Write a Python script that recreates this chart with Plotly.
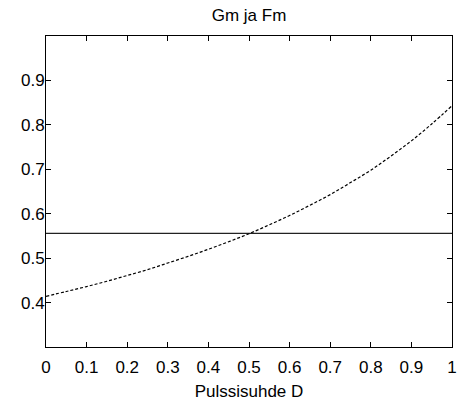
import plotly.graph_objects as go

# Data
d_values = [0.0, 0.05, 0.1, 0.15, 0.2, 0.25, 0.3, 0.35, 0.4, 0.45, 0.5,
            0.55, 0.6, 0.65, 0.7, 0.75, 0.8, 0.85, 0.9, 0.95, 1.0]
gm_values = [0.414, 0.425, 0.436, 0.448, 0.461, 0.474, 0.489, 0.504, 0.520, 0.537, 0.555,
             0.575, 0.596, 0.619, 0.643, 0.670, 0.698, 0.730, 0.764, 0.802, 0.843]
fm_d = [0.0, 1.0]
fm_values = [0.5556, 0.5556]

x_ticks = [0, 0.1, 0.2, 0.3, 0.4, 0.5, 0.6, 0.7, 0.8, 0.9, 1]
x_tick_labels = ["0", "0.1", "0.2", "0.3", "0.4", "0.5", "0.6", "0.7", "0.8", "0.9", "1"]
y_ticks = [0.4, 0.5, 0.6, 0.7, 0.8, 0.9]
y_tick_labels = ["0.4", "0.5", "0.6", "0.7", "0.8", "0.9"]

font_family = "Liberation Sans, Arial, sans-serif"

fig = go.Figure()
fig.add_trace(go.Scatter(x=fm_d, y=fm_values, mode="lines",
                         line=dict(color="#222222", width=1.3), showlegend=False,
                         hoverinfo="skip"))
fig.add_trace(go.Scatter(x=d_values, y=gm_values, mode="lines",
                         line=dict(color="black", width=1.2, dash="3px,2px", shape="spline"),
                         showlegend=False))

axis_common = dict(showline=True, linecolor="black", linewidth=1, mirror="ticks",
                   ticks="inside", ticklen=5, tickcolor="black", showgrid=False,
                   zeroline=False, ticklabeloverflow="allow",
                   tickfont=dict(family=font_family, size=17, color="black"))

fig.update_layout(
    width=459, height=405,
    margin=dict(l=46, r=2, t=36, b=58),
    paper_bgcolor="white", plot_bgcolor="white",
    font=dict(family=font_family, size=17, color="black"),
    title=dict(text="Gm ja Fm", x=0.5, xref="paper", xanchor="center",
               y=0.962, yanchor="middle",
               font=dict(family=font_family, size=17, color="black")),
    xaxis=dict(range=[0, 1], tickvals=x_ticks, ticktext=x_tick_labels,
               ticklabelstandoff=5,
               title=dict(text="Pulssisuhde D", standoff=8,
                          font=dict(family=font_family, size=17, color="black")),
               **axis_common),
    yaxis=dict(range=[0.3, 1.0], tickvals=y_ticks, ticktext=y_tick_labels,
               ticklabelstandoff=-3,
               **axis_common),
)

fig.write_html("out.html")
